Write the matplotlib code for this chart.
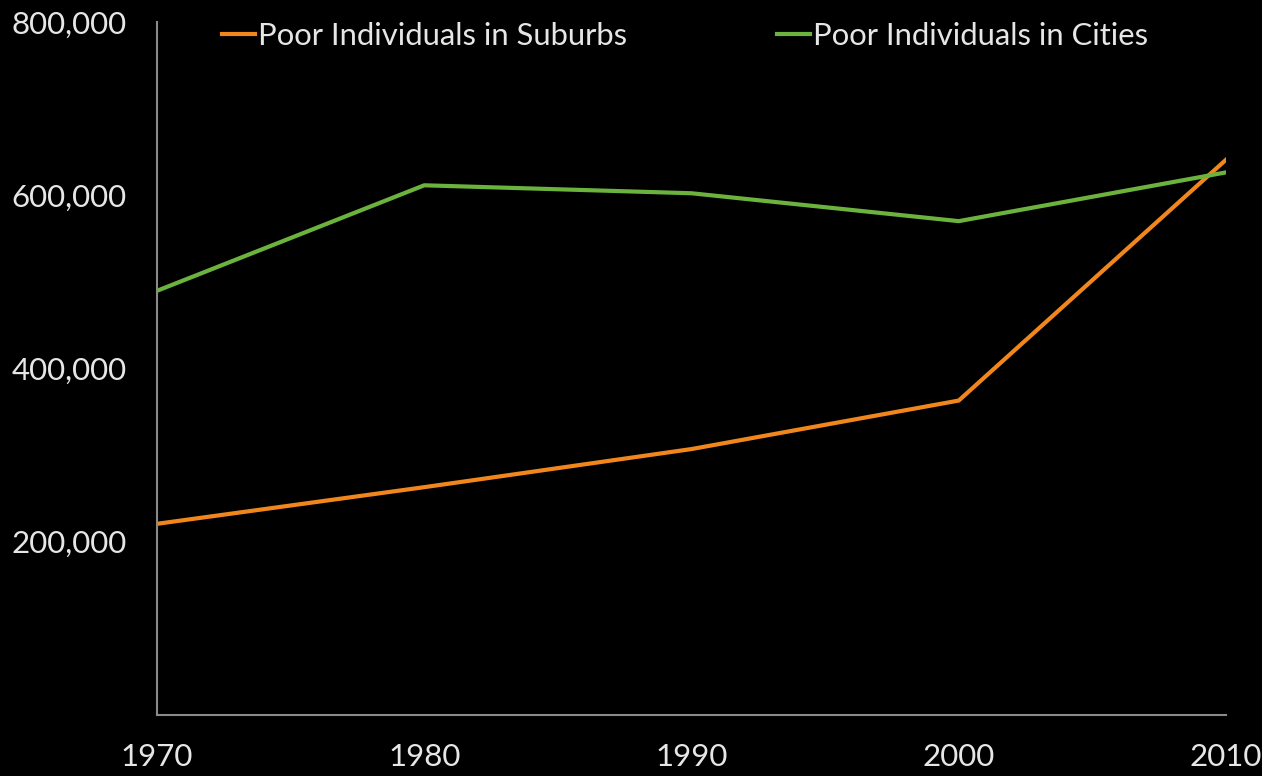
import numpy as np
import matplotlib
matplotlib.use("Agg")
from matplotlib import pyplot as plt
from matplotlib.ticker import FuncFormatter

# poverty counts by decade
years = [1970, 1980, 1990, 2000, 2010]
suburbs = [220700, 263000, 307000, 363000, 641000]
cities = [489700, 611500, 602300, 570100, 626400]

series_names = ["Poor Individuals in Suburbs", "Poor Individuals in Cities"]
ytick_values = [200000, 400000, 600000, 800000]

plt.rcParams['font.family'] = ['Lato', 'DejaVu Sans']
text_col = '#e6e6e6'

fig = plt.figure(figsize=(12.62, 7.76), dpi=100, facecolor='black')
ax = fig.add_axes([157/1262, 61/776, (1226-157)/1262, (715-22)/776])
ax.set_facecolor('black')

ax.plot(years, suburbs, color='#f0861c', lw=3, label=series_names[0])
ax.plot(years, cities, color='#6cb33e', lw=3, label=series_names[1])

ax.set_xlim(years[0], years[-1])
ax.set_ylim(0, 800000)
ax.set_xticks(years)
ax.set_yticks(ytick_values)
ax.yaxis.set_major_formatter(FuncFormatter(lambda v, p: f"{int(v):,}"))
ax.tick_params(axis='both', length=0, labelsize=22.5, colors=text_col)
ax.tick_params(axis='y', pad=22)
ax.tick_params(axis='x', pad=20)

for side in ['top', 'right']:
    ax.spines[side].set_visible(False)
for side in ['left', 'bottom']:
    ax.spines[side].set_color('#8a8a8a')
    ax.spines[side].set_linewidth(1.5)

leg = ax.legend(loc='upper left', bbox_to_anchor=(0.035, 1.04), ncol=2,
                frameon=False, fontsize=22.3, handlelength=1.05, handletextpad=0.1,
                columnspacing=4.85, labelcolor=text_col)

fig.savefig('out.png', dpi=100, facecolor='black')
